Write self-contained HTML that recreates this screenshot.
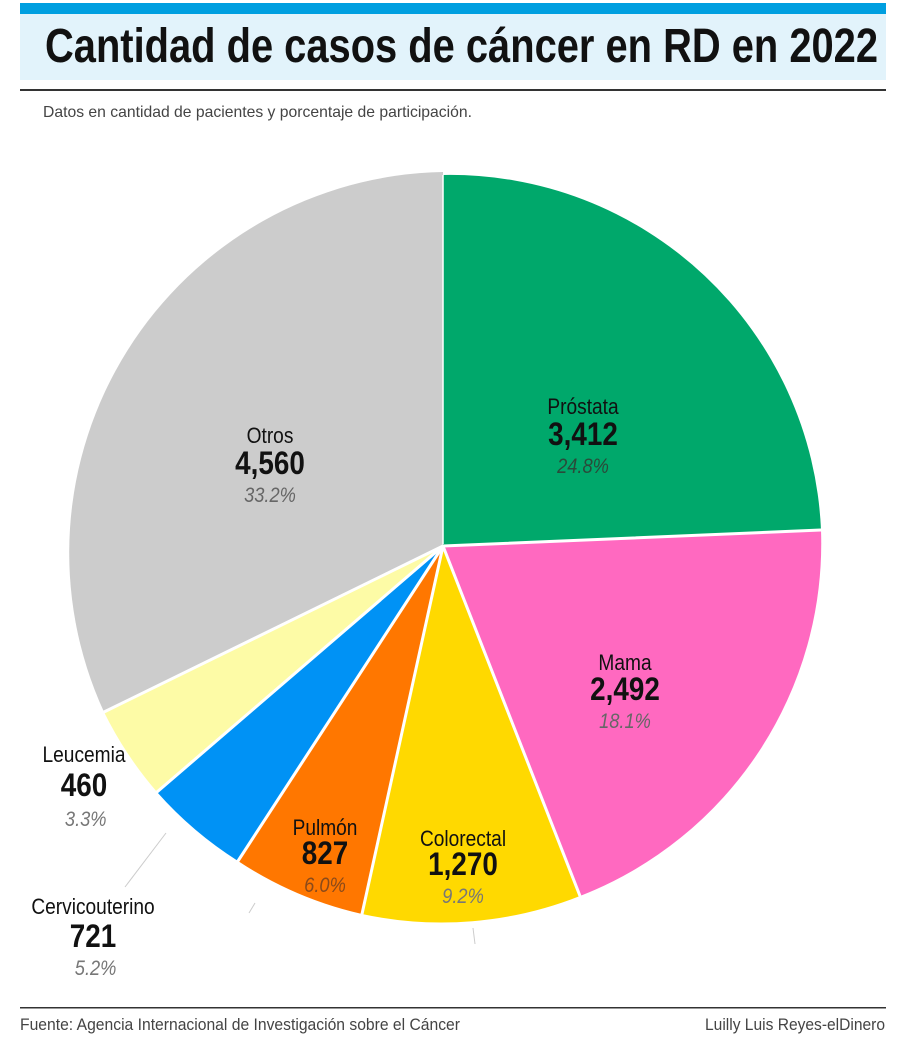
<!DOCTYPE html>
<html><head><meta charset="utf-8"><style>
html,body{margin:0;padding:0;background:#fff}
svg{display:block}
text{font-family:"Liberation Sans Narrow","Liberation Sans",sans-serif}
</style></head><body>
<svg width="900" height="1048" viewBox="0 0 900 1048" xmlns="http://www.w3.org/2000/svg">
<rect x="20" y="3" width="866" height="11" fill="#009fe0"/>
<rect x="20" y="14" width="866" height="66" fill="#e2f3fb"/>
<text x="45" y="62" font-size="48" font-weight="bold" fill="#111" textLength="833" lengthAdjust="spacingAndGlyphs">Cantidad de casos de cáncer en RD en 2022</text>
<rect x="20" y="89" width="866" height="2" fill="#333"/>
<text x="43" y="117" font-size="16" fill="#444" textLength="429" lengthAdjust="spacingAndGlyphs">Datos en cantidad de pacientes y porcentaje de participación.</text>

<g>
<path d="M443,546 L443,175 A371,371 0 0 1 821,530 Z" fill="#00a86b"/>
<path d="M443,546 L821,530 A378,378 0 0 1 580,896 Z" fill="#ff69c0"/>
<path d="M443,546 L580,896 A376,376 0 0 1 362,914 Z" fill="#ffd900"/>
<path d="M443,546 L362,914 A376,376 0 0 1 238,861 Z" fill="#ff7700"/>
<path d="M443,546 L238,861 A376,376 0 0 1 157,792 Z" fill="#0092f5"/>
<path d="M443,546 L157,792 A376,376 0 0 1 104,712 Z" fill="#fdfba6"/>
<path d="M443,546 L104,712 A381,381 0 0 1 443,172 Z" fill="#cccccc"/>
</g>
<g stroke="#fff" stroke-width="3" fill="none" stroke-linecap="round">
<line x1="443" y1="546" x2="821" y2="530"/>
<line x1="443" y1="546" x2="580" y2="896"/>
<line x1="443" y1="546" x2="362" y2="914"/>
<line x1="443" y1="546" x2="238" y2="861"/>
<line x1="443" y1="546" x2="157" y2="792"/>
<line x1="443" y1="546" x2="104" y2="712"/>
</g>
<line x1="443" y1="175" x2="443" y2="544" stroke="#fff" stroke-width="1.5"/>
<g stroke="#ccc" stroke-width="1">
<line x1="166" y1="833" x2="125" y2="887"/>
<line x1="255" y1="903" x2="249" y2="913"/>
<line x1="473" y1="928" x2="475" y2="944"/>
</g>

<g text-anchor="middle">
<g transform="translate(583,0) scale(0.87,1)">
<text x="0" y="414" font-size="22" fill="#111">Próstata</text>
<text x="0" y="445" font-size="32" font-weight="bold" fill="#111">3,412</text>
<text x="0" y="473" font-size="21" font-style="italic" fill="#2a4a3a">24.8%</text></g>
<g transform="translate(270,0) scale(0.87,1)">
<text x="0" y="443" font-size="22" fill="#111">Otros</text>
<text x="0" y="474" font-size="32" font-weight="bold" fill="#111">4,560</text>
<text x="0" y="502" font-size="21" font-style="italic" fill="#666">33.2%</text></g>
<g transform="translate(625,0) scale(0.87,1)">
<text x="0" y="670" font-size="22" fill="#111">Mama</text>
<text x="0" y="700" font-size="32" font-weight="bold" fill="#111">2,492</text>
<text x="0" y="728" font-size="21" font-style="italic" fill="#666">18.1%</text></g>
<g transform="translate(463,0) scale(0.87,1)">
<text x="0" y="846" font-size="22" fill="#111">Colorectal</text>
<text x="0" y="875" font-size="32" font-weight="bold" fill="#111">1,270</text>
<text x="0" y="903" font-size="21" font-style="italic" fill="#777">9.2%</text></g>
<g transform="translate(325,0) scale(0.87,1)">
<text x="0" y="835" font-size="22" fill="#111">Pulmón</text>
<text x="0" y="864" font-size="32" font-weight="bold" fill="#111">827</text>
<text x="0" y="892" font-size="21" font-style="italic" fill="#8a4a1a">6.0%</text></g>
<g transform="translate(84,0) scale(0.87,1)">
<text x="0" y="762" font-size="22" fill="#111">Leucemia</text>
<text x="0" y="796" font-size="32" font-weight="bold" fill="#111">460</text>
<text x="2" y="826" font-size="21" font-style="italic" fill="#777">3.3%</text></g>
<g transform="translate(93,0) scale(0.87,1)">
<text x="0" y="914" font-size="22" fill="#111">Cervicouterino</text>
<text x="0" y="947" font-size="32" font-weight="bold" fill="#111">721</text>
<text x="3" y="975" font-size="21" font-style="italic" fill="#777">5.2%</text></g>
</g>

<rect x="20" y="1007" width="866" height="1.5" fill="#333"/>
<text x="20" y="1030" font-size="17" fill="#444" textLength="440" lengthAdjust="spacingAndGlyphs">Fuente: Agencia Internacional de Investigación sobre el Cáncer</text>
<text x="705" y="1030" font-size="17" fill="#444" textLength="180" lengthAdjust="spacingAndGlyphs">Luilly Luis Reyes-elDinero</text>
</svg>
</body></html>
